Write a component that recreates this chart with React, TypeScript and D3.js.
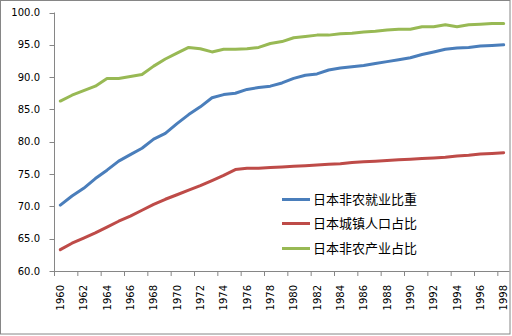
import React from "react";
import * as d3 from "d3";

const years: number[] = d3.range(1960, 1999);
const yTicks = [60, 65, 70, 75, 80, 85, 90, 95, 100];

const nonAgriEmployment = [
  70.2, 71.6, 72.8, 74.3, 75.6, 77.0, 78.0, 79.0, 80.4, 81.3,
  82.8, 84.2, 85.4, 86.8, 87.3, 87.5, 88.1, 88.4, 88.6, 89.1,
  89.8, 90.3, 90.5, 91.1, 91.4, 91.6, 91.8, 92.1, 92.4, 92.7,
  93.0, 93.5, 93.9, 94.3, 94.5, 94.6, 94.8, 94.9, 95.0,
];
const urbanPopulation = [
  63.3, 64.3, 65.1, 65.9, 66.8, 67.7, 68.5, 69.4, 70.3, 71.1,
  71.8, 72.5, 73.2, 74.0, 74.8, 75.7, 75.9, 75.9, 76.0, 76.1,
  76.2, 76.3, 76.4, 76.5, 76.6, 76.8, 76.9, 77.0, 77.1, 77.2,
  77.3, 77.4, 77.5, 77.6, 77.8, 77.9, 78.1, 78.2, 78.3,
];
const nonAgriIndustry = [
  86.3, 87.2, 87.9, 88.6, 89.8, 89.8, 90.1, 90.4, 91.7, 92.8,
  93.7, 94.6, 94.4, 93.9, 94.3, 94.3, 94.4, 94.6, 95.2, 95.5,
  96.1, 96.3, 96.5, 96.5, 96.7, 96.8, 97.0, 97.1, 97.3, 97.4,
  97.4, 97.8, 97.8, 98.1, 97.8, 98.1, 98.2, 98.3, 98.3,
];

const seriesNames = ["日本非农就业比重", "日本城镇人口占比", "日本非农产业占比"];
const seriesColors = ["#4A7EBB", "#BE4B48", "#98B954"];
const seriesData = [nonAgriEmployment, urbanPopulation, nonAgriIndustry];

const W = 512;
const H = 336;
const left = 54.5;
const right = 509.5;
const top = 12.5;
const bottom = 271;

export default function App() {
  const x = d3
    .scaleBand<number>()
    .domain(years)
    .range([left, right])
    .paddingInner(0)
    .paddingOuter(0);
  const y = d3.scaleLinear().domain([60, 100]).range([bottom, top]);
  const line = d3
    .line<number>()
    .x((_, i) => (x(years[i]) as number) + x.bandwidth() / 2)
    .y((d) => y(d));

  const axisColor = "#868686";
  const font = "DejaVu Sans, Verdana, sans-serif";
  const xTickYears = years.filter((_, i) => i % 2 === 0);

  return (
    <svg
      width={W}
      height={H}
      style={{ position: "absolute", left: 0, top: 0, background: "#fff" }}
    >
      <rect x={0.5} y={0.5} width={509.5} height={333.5} fill="#fff" stroke={axisColor} strokeWidth={1} />
      {/* y axis */}
      <line x1={left} x2={left} y1={top} y2={bottom} stroke={axisColor} strokeWidth={1} />
      {yTicks.map((t) => (
        <g key={t}>
          <line x1={left - 5} x2={left} y1={Math.round(y(t)) + 0.5} y2={Math.round(y(t)) + 0.5} stroke={axisColor} />
          <text
            x={40}
            y={y(t)}
            dy="0.35em"
            textAnchor="end"
            fontFamily={font}
            fontSize={10}
            fill="#000"
          >
            {t.toFixed(1)}
          </text>
        </g>
      ))}
      {/* x axis */}
      <line x1={left} x2={right} y1={bottom + 0.5} y2={bottom + 0.5} stroke={axisColor} strokeWidth={1} />
      {xTickYears.map((yr) => {
        const bx = x(yr) as number;
        return (
          <g key={yr}>
            <line x1={bx} x2={bx} y1={bottom} y2={bottom + 5} stroke={axisColor} />
            <text
              transform={`translate(${bx + x.bandwidth() / 2},${285}) rotate(-90)`}
              dy="0.35em"
              textAnchor="end"
              fontFamily={font}
              fontSize={10}
              fill="#000"
            >
              {yr}
            </text>
          </g>
        );
      })}
      {/* series */}
      {seriesData.map((s, i) => (
        <path
          key={i}
          d={line(s) || ""}
          fill="none"
          stroke={seriesColors[i]}
          strokeWidth={3}
          strokeLinejoin="round"
          strokeLinecap="round"
        />
      ))}
      {/* legend */}
      {seriesNames.map((n, i) => {
        const ly = [199.5, 223.5, 248.5][i];
        return (
          <g key={n}>
            <line x1={282} x2={310} y1={ly} y2={ly} stroke={seriesColors[i]} strokeWidth={3} />
            <text
              x={313}
              y={ly}
              dy="0.36em"
              fontFamily="Noto Sans CJK SC, sans-serif"
              fontSize={13}
              fill="#000"
            >
              {n}
            </text>
          </g>
        );
      })}
    </svg>
  );
}
